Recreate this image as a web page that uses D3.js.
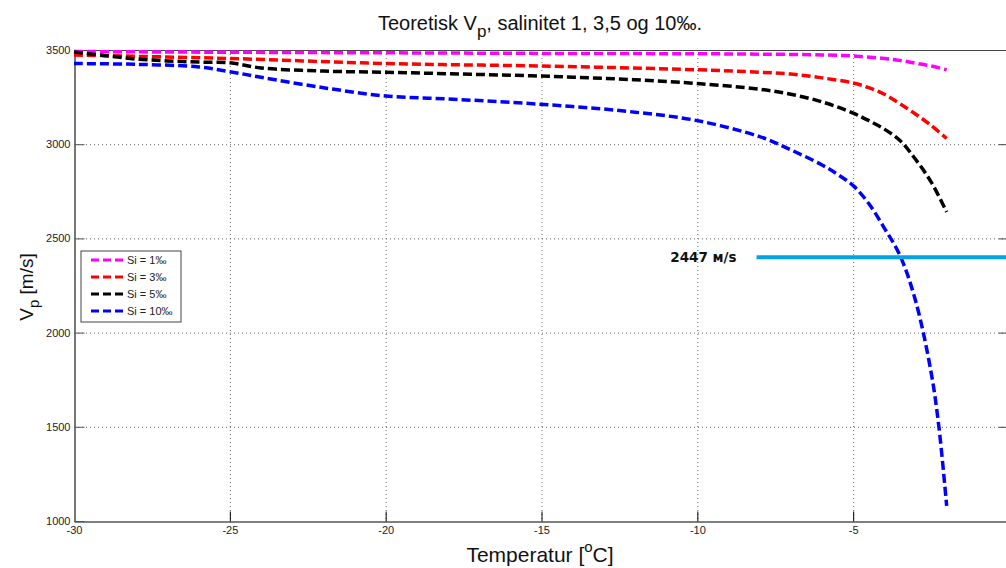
<!DOCTYPE html>
<html>
<head>
<meta charset="utf-8">
<script src="https://cdn.jsdelivr.net/npm/d3@7"></script>
<style>
  body { margin: 0; background: #fff; }
  svg { font-family: Arial, "Liberation Sans", sans-serif; }
</style>
</head>
<body>
<div id="chart"></div>
<script>
// data
const temps1 = [-30, -25, -20, -15, -10, -8, -6, -5, -4, -3.5, -3, -2.5, -2]
const si1 = [3492, 3488, 3485, 3482, 3480, 3478, 3474, 3468, 3455, 3445, 3430, 3415, 3395]

const temps3 = [-30, -25, -20, -15, -10, -8, -7, -6, -5, -4.5, -4, -3.5, -3, -2.5, -2]
const si3 = [3473, 3455, 3428, 3415, 3395, 3382, 3372, 3352, 3325, 3300, 3265, 3215, 3160, 3100, 3030]

const temps5 = [-30, -29, -28, -27, -26, -25, -24, -22, -20, -18, -16, -14, -12, -10, -8, -7, -6, -5, -4.5, -4, -3.5, -3, -2.5, -2]
const si5 = [3490, 3470, 3452, 3442, 3436, 3432, 3405, 3388, 3382, 3374, 3366, 3356, 3342, 3322, 3292, 3265, 3225, 3165, 3125, 3080, 3020, 2920, 2800, 2640]

const temps10 = [-30, -28, -26, -25, -24, -22, -20, -18, -16, -14, -12, -10, -8, -7, -6, -5.5, -5, -4.5, -4, -3.5, -3, -2.5, -2.25, -2]
const si10 = [3428, 3424, 3410, 3385, 3355, 3300, 3256, 3240, 3222, 3200, 3170, 3125, 3040, 2970, 2890, 2840, 2780, 2685, 2555, 2410, 2170, 1790, 1500, 1080]

const seriesNames = ['Si = 1‰', 'Si = 3‰', 'Si = 5‰', 'Si = 10‰']
const seriesColors = ['#ff00ff', '#ff0000', '#000000', '#0000ff']

const xTicks = [-30, -25, -20, -15, -10, -5]
const yTicks = [1000, 1500, 2000, 2500, 3000, 3500]

// marker line at the right
const markerValue = 2400
const markerStart = -8.1
const markerLabel = '2447 м/s'

const width = 1006, height = 568
const margin = { left: 74, top: 50, right: 1009, bottom: 521 }

const svg = d3.select('#chart').append('svg')
  .attr('width', width)
  .attr('height', height)

const x = d3.scaleLinear().domain([-30, 0]).range([margin.left, margin.right])
const y = d3.scaleLinear().domain([1000, 3500]).range([margin.bottom, margin.top])

// grid
let grid = svg.append('g')
  .attr('stroke', '#666')
  .attr('stroke-width', 1)
  .attr('stroke-dasharray', '1,3')
grid.selectAll('.vg')
  .data(xTicks.slice(1))
  .enter().append('line')
  .attr('x1', (d) => x(d) + 0.5).attr('x2', (d) => x(d) + 0.5)
  .attr('y1', margin.top).attr('y2', margin.bottom)
grid.selectAll('.hg')
  .data(yTicks.slice(1, -1))
  .enter().append('line')
  .attr('x1', margin.left).attr('x2', margin.right)
  .attr('y1', (d) => y(d) + 0.5).attr('y2', (d) => y(d) + 0.5)

// axes box
svg.append('line').attr('x1', margin.left).attr('x2', margin.right)
  .attr('y1', margin.top + 0.5).attr('y2', margin.top + 0.5).attr('stroke', '#444')
svg.append('line').attr('x1', margin.right - 0.5).attr('x2', margin.right - 0.5)
  .attr('y1', margin.top).attr('y2', margin.bottom).attr('stroke', '#444')

let xAxis = svg.append('g')
  .attr('transform', `translate(0,${margin.bottom + 0.5})`)
  .call(d3.axisBottom(x).tickValues(xTicks).tickFormat(d3.format('d')).tickSizeInner(-10).tickSizeOuter(0).tickPadding(5))
xAxis.select('.domain').attr('stroke', '#000')
xAxis.selectAll('.tick line').attr('stroke', '#000')
xAxis.selectAll('.tick text').attr('font-size', 11).attr('fill', '#222')
  .text((d) => String(d).replace('-', '-'))

let yAxis = svg.append('g')
  .attr('transform', `translate(${margin.left + 0.5},0)`)
  .call(d3.axisLeft(y).tickValues(yTicks).tickFormat(d3.format('d')).tickSizeInner(-10).tickSizeOuter(0).tickPadding(4))
yAxis.select('.domain').attr('stroke', '#777').attr('stroke-width', 2)
yAxis.selectAll('.tick line').attr('stroke', '#555')
yAxis.selectAll('.tick text').attr('font-size', 11).attr('fill', '#222')

// inward ticks on the right side
svg.append('g').selectAll('line')
  .data(yTicks.slice(1, -1))
  .enter().append('line')
  .attr('x1', margin.right - 10).attr('x2', margin.right)
  .attr('y1', (d) => y(d) + 0.5).attr('y2', (d) => y(d) + 0.5)
  .attr('stroke', '#444')

// curves
const series = [
  { temps: temps1, vals: si1 },
  { temps: temps3, vals: si3 },
  { temps: temps5, vals: si5 },
  { temps: temps10, vals: si10 }
]
let line = d3.line()
  .x((d) => x(d[0]))
  .y((d) => y(d[1]))
  .curve(d3.curveCatmullRom.alpha(0.5))

svg.append('g').selectAll('path')
  .data(series)
  .enter().append('path')
  .attr('d', (s) => line(s.temps.map((t, i) => [t, s.vals[i]])))
  .attr('fill', 'none')
  .attr('stroke', (s, i) => seriesColors[i])
  .attr('stroke-width', 3.5)
  .attr('stroke-dasharray', '9,4')

// marker
svg.append('line')
  .attr('x1', x(markerStart)).attr('x2', x(0))
  .attr('y1', y(markerValue)).attr('y2', y(markerValue))
  .attr('stroke', '#00a2e8')
  .attr('stroke-width', 4)
svg.append('text')
  .attr('x', x(markerStart) - 20)
  .attr('y', y(markerValue) + 5)
  .attr('text-anchor', 'end')
  .attr('font-family', '"DejaVu Sans", Verdana, sans-serif')
  .attr('font-size', 13.5)
  .attr('font-weight', 'bold')
  .attr('fill', '#111')
  .text(markerLabel)

// legend
let legend = svg.append('g').attr('transform', 'translate(81,251)')
legend.append('rect')
  .attr('width', 100).attr('height', 71)
  .attr('fill', '#fff').attr('stroke', '#444')
let items = legend.selectAll('.item')
  .data(seriesNames)
  .enter().append('g')
  .attr('transform', (d, i) => `translate(0,${9 + i * 17})`)
items.append('line')
  .attr('x1', 10).attr('x2', 44)
  .attr('stroke', (d, i) => seriesColors[i])
  .attr('stroke-width', 3)
  .attr('stroke-dasharray', '8,4')
items.append('text')
  .attr('x', 46).attr('y', 4)
  .attr('font-size', 11)
  .attr('fill', '#222')
  .text((d) => d)

// title and labels
let title = svg.append('text')
  .attr('x', 540).attr('y', 30)
  .attr('text-anchor', 'middle')
  .attr('font-size', 20)
  .attr('fill', '#111')
title.append('tspan').text('Teoretisk V')
title.append('tspan').attr('dy', 7).attr('font-size', 17).text('p')
title.append('tspan').attr('dy', -7).text(', salinitet 1, 3,5 og 10‰.')

let yLabel = svg.append('text')
  .attr('transform', 'translate(33,287) rotate(-90)')
  .attr('text-anchor', 'middle')
  .attr('font-size', 19)
  .attr('fill', '#111')
yLabel.append('tspan').text('V')
yLabel.append('tspan').attr('dy', 6).attr('font-size', 15).text('p')
yLabel.append('tspan').attr('dy', -6).text(' [m/s]')

let xLabel = svg.append('text')
  .attr('x', 540).attr('y', 562)
  .attr('text-anchor', 'middle')
  .attr('font-size', 21)
  .attr('fill', '#111')
xLabel.append('tspan').text('Temperatur [')
xLabel.append('tspan').attr('dy', -10).attr('font-size', 15).text('o')
xLabel.append('tspan').attr('dy', 10).text('C]')
</script>
</body>
</html>
